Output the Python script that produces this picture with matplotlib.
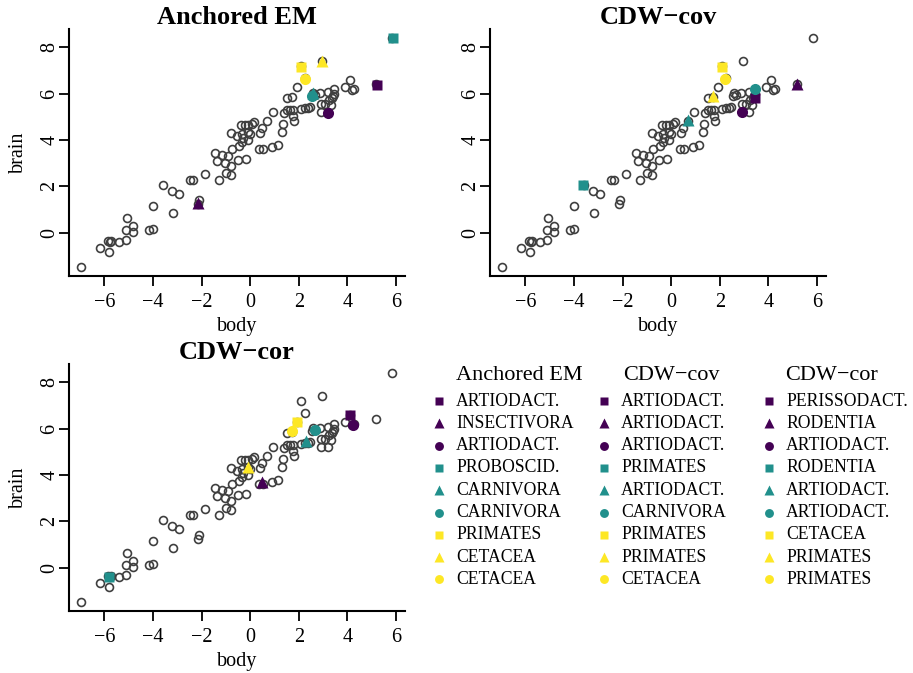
import numpy as np
import matplotlib.pyplot as plt

plt.rcParams['font.family'] = ['Liberation Serif', 'DejaVu Serif']

# log body weight / log brain weight, all species
body = [-6.94, -6.16, -5.82, -5.85, -5.78, -5.72, -5.41, -5.09, -5.05, -5.12,
        -4.83, -4.82, -4.18, -3.98, -3.98, -3.18, -3.60, -3.20, -2.92, -2.46,
        -2.33, -2.11, -2.16, -1.85, -1.44, -1.37, -1.30, -1.16, -1.05, -0.92,
        -1.01, -0.80, -0.80, -0.75, -0.78, -0.55, -0.45, -0.48, -0.38, -0.32,
        -0.30, -0.34, -0.18, -0.21, -0.07, -0.10, 0.00, 0.07, 0.14, 0.50,
        0.42, 0.68, 0.36, 0.54, 0.92, 1.14, 0.95, 1.35, 1.32, 1.38,
        1.53, 1.62, 1.75, 1.78, 1.80, 1.53, 1.72, 1.92, 2.10, 2.27,
        2.38, 2.46, 2.57, 2.53, 2.65, 2.87, 2.92, 3.06, 2.93, 3.19,
        3.20, 3.23, 3.36, 3.42, 3.44, 3.33, 3.46, 3.90, 4.11, 4.18,
        4.28, 5.18, 5.84, 2.10, 2.96, 2.26, -0.08]
brain = [-1.46, -0.65, -0.82, -0.36, -0.42, -0.38, -0.40, -0.32, 0.62, 0.11,
         0.30, 0.01, 0.11, 0.16, 1.13, 0.86, 2.04, 1.81, 1.65, 2.28,
         2.28, 1.43, 1.25, 2.54, 3.44, 3.08, 2.28, 3.34, 3.00, 3.33,
         2.58, 2.48, 2.88, 3.60, 4.29, 4.19, 3.72, 3.13, 4.63, 4.27,
         4.08, 3.93, 3.16, 4.66, 4.63, 3.99, 4.27, 4.70, 4.76, 4.52,
         4.32, 4.82, 3.62, 3.62, 3.70, 3.80, 5.20, 4.68, 4.36, 5.16,
         5.30, 5.30, 5.28, 5.04, 4.82, 5.82, 5.85, 6.28, 5.35, 5.40,
         5.40, 5.42, 6.04, 5.90, 5.96, 6.02, 5.56, 5.55, 5.22, 5.20,
         6.08, 5.72, 5.80, 5.90, 6.00, 5.52, 6.22, 6.28, 6.57, 6.14,
         6.18, 6.40, 8.42, 7.18, 7.40, 6.66, 4.35]

methods = ['Anchored EM', 'CDW\u2212cov', 'CDW\u2212cor']

# nine flagged species per method
flag_body = [
    [5.20, -2.15, 3.19, 5.86, 2.57, 2.53, 2.11, 2.97, 2.27],
    [3.44, 5.16, 2.92, -3.62, 0.68, 3.44, 2.08, 1.71, 2.23],
    [4.12, 0.49, 4.23, -5.79, 2.31, 2.67, 1.93, -0.08, 1.71],
]
flag_brain = [
    [6.37, 1.29, 5.16, 8.39, 6.04, 5.92, 7.16, 7.40, 6.64],
    [5.80, 6.41, 5.22, 2.05, 4.86, 6.22, 7.16, 5.89, 6.65],
    [6.59, 3.69, 6.17, -0.40, 5.48, 5.94, 6.28, 4.35, 5.91],
]
flag_order = [
    ['ARTIODACT.', 'INSECTIVORA', 'ARTIODACT.', 'PROBOSCID.', 'CARNIVORA',
     'CARNIVORA', 'PRIMATES', 'CETACEA', 'CETACEA'],
    ['ARTIODACT.', 'ARTIODACT.', 'ARTIODACT.', 'PRIMATES', 'ARTIODACT.',
     'CARNIVORA', 'PRIMATES', 'PRIMATES', 'CETACEA'],
    ['PERISSODACT.', 'RODENTIA', 'ARTIODACT.', 'RODENTIA', 'ARTIODACT.',
     'ARTIODACT.', 'CETACEA', 'PRIMATES', 'PRIMATES'],
]

cols = ['#440154', '#21908C', '#FDE725']
pchs = ['s', '^', 'o']
msize = {'s': 6.6, '^': 8.2, 'o': 8.0}

W, H = 913, 673
fig = plt.figure(figsize=(W / 100, H / 100), dpi=100)

def px_axes(left, top, width, height):
    return fig.add_axes([left / W, (H - top - height) / H, width / W, height / H])

panels = [(69, 29), (490, 29), (69, 364)]
for k, (left, top) in enumerate(panels):
    ax = px_axes(left, top, 336, 247)
    ax.plot(body, brain, 'o', ms=5.7, mfc='none', mec='#3f3f3f', mew=1.2, ls='none')
    for i in range(9):
        m = pchs[i % 3]
        ax.plot(flag_body[k][i], flag_brain[k][i], m, ms=msize[m],
                color=cols[i // 3], mec='none', ls='none')
    ax.set_xlim(-7.45, 6.37)
    ax.set_ylim(-1.87, 8.79)
    ax.set_xticks(np.arange(-6, 7, 2))
    ax.set_yticks(np.arange(0, 9, 2))
    for s in ['top', 'right']:
        ax.spines[s].set_visible(False)
    for s in ['left', 'bottom']:
        ax.spines[s].set_linewidth(1.5)
    ax.tick_params(labelsize=14.5, length=7.5, width=1.3, pad=5)
    ax.tick_params(axis='y', labelrotation=90, pad=6.2)
    for lab in ax.get_yticklabels():
        lab.set_va('center')
        lab.set_ha('center')
    ax.set_title(methods[k], fontsize=19, fontweight='bold', pad=1.5)
    ax.set_xlabel('body', fontsize=14.5, labelpad=3)
    if left < 100:
        ax.set_ylabel('brain', fontsize=14.5, labelpad=9)

# legend block, one column per method
lg = fig.add_axes([0, 0, 1, 1])
lg.set_xlim(0, W)
lg.set_ylim(H, 0)
lg.axis('off')
col_x = [439, 604, 769]
title_x = [519, 671, 831]
for k in range(3):
    lg.text(title_x[k], 375, methods[k], fontsize=16, ha='center', va='center')
    for i in range(9):
        y = 401 + i * 22.3
        m = pchs[i % 3]
        lg.plot(col_x[k], y, m, ms=msize[m] * 0.8, color=cols[i // 3], mec='none')
        lg.text(col_x[k] + 17, y, flag_order[k][i], fontsize=12.7, va='center')

fig.savefig('out.png', dpi=100)
